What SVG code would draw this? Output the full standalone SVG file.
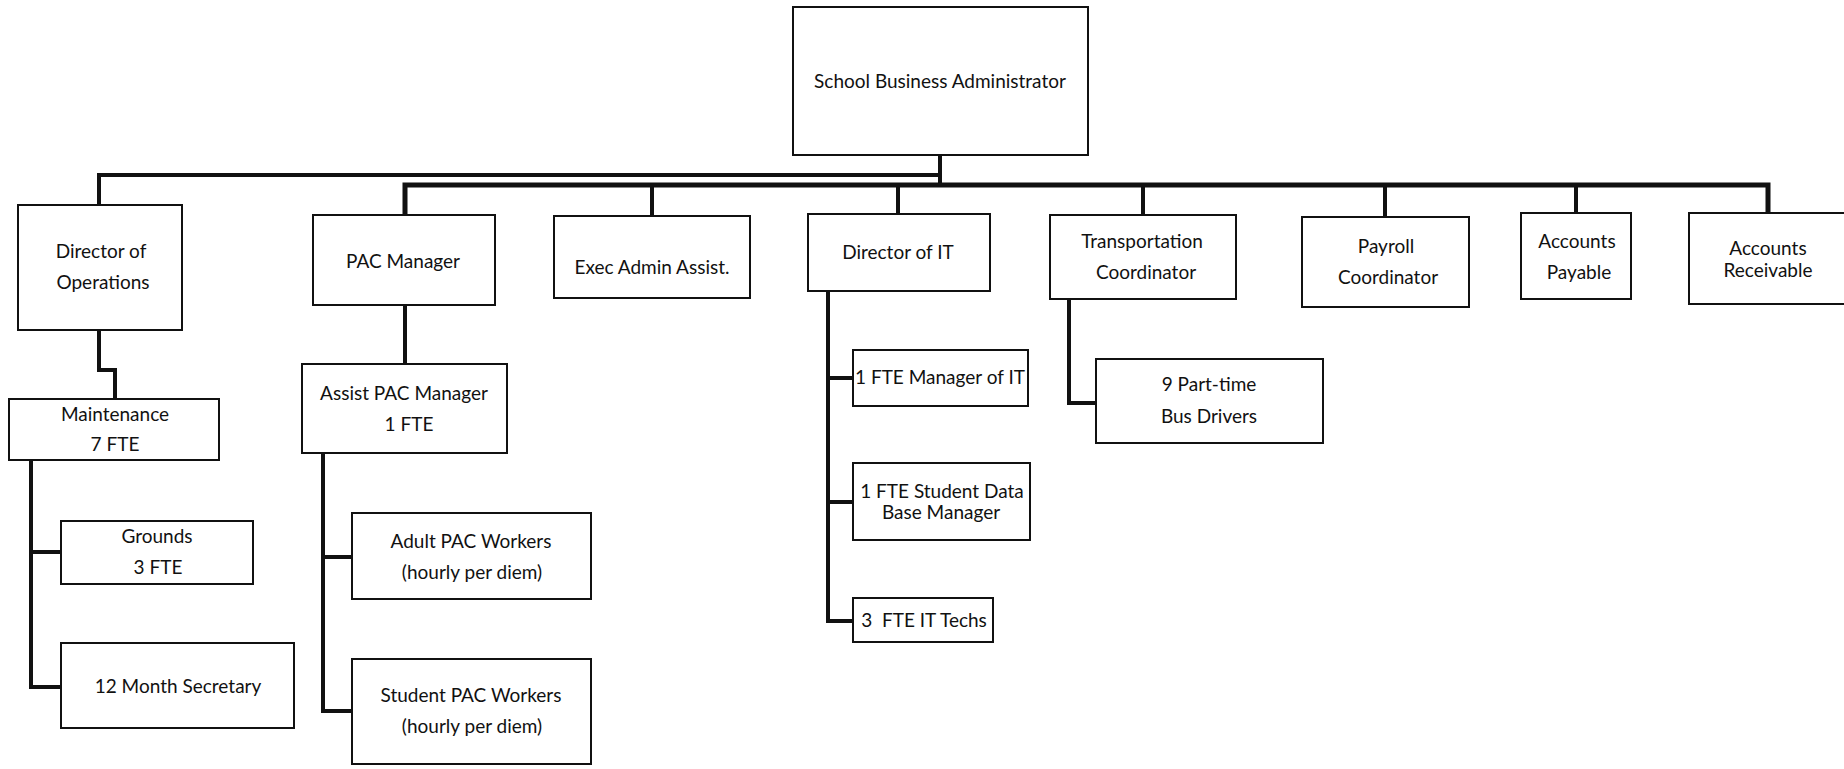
<svg xmlns="http://www.w3.org/2000/svg" width="1844" height="769" viewBox="0 0 1844 769">
  <style>
    .box { fill: #ffffff; stroke: #111111; stroke-width: 2; }
    .lbl { font-family: Lato, "Open Sans", "Liberation Sans", sans-serif; font-size: 19px; fill: #111111; text-anchor: middle; white-space: pre; }
    .wire { fill: none; stroke: #111111; stroke-width: 4; stroke-linejoin: miter; }
    .bus { stroke-width: 5; }
  </style>
  <rect width="1844" height="769" fill="#ffffff"/>

  <!-- reporting lines -->
  <g id="connectors">
    <path class="wire" d="M940 155 V185"/>
    <path class="wire" d="M99 205 V175 H940"/>
    <path class="wire bus" d="M405 215 V185 H1768 V213"/>
    <path class="wire" d="M652 185 V216"/>
    <path class="wire" d="M898 185 V214"/>
    <path class="wire" d="M1143 185 V215"/>
    <path class="wire" d="M1385 185 V217"/>
    <path class="wire" d="M1576 185 V213"/>
    <path class="wire" d="M99 330 V370 H115 V399"/>
    <path class="wire" d="M31 460 V687 H61"/>
    <path class="wire" d="M31 552 H61"/>
    <path class="wire" d="M405 305 V364"/>
    <path class="wire" d="M323 453 V711 H352"/>
    <path class="wire" d="M323 557 H352"/>
    <path class="wire" d="M828 291 V621 H853"/>
    <path class="wire" d="M828 378 H853"/>
    <path class="wire" d="M828 502 H853"/>
    <path class="wire" d="M1069 299 V403 H1096"/>
  </g>

  <g id="school-business-administrator">
    <rect class="box" x="793" y="7" width="295" height="148"/>
    <text class="lbl" x="940" y="88">School Business Administrator</text>
  </g>

  <g id="director-of-operations">
    <rect class="box" x="18" y="205" width="164" height="125"/>
    <text class="lbl" x="101" y="258">Director of</text>
    <text class="lbl" x="103" y="289">Operations</text>
  </g>

  <g id="pac-manager">
    <rect class="box" x="313" y="215" width="182" height="90"/>
    <text class="lbl" x="403" y="268">PAC Manager</text>
  </g>

  <g id="exec-admin-assist">
    <rect class="box" x="554" y="216" width="196" height="82"/>
    <text class="lbl" x="652" y="274">Exec Admin Assist.</text>
  </g>

  <g id="director-of-it">
    <rect class="box" x="808" y="214" width="182" height="77"/>
    <text class="lbl" x="898" y="259">Director of IT</text>
  </g>

  <g id="transportation-coordinator">
    <rect class="box" x="1050" y="215" width="186" height="84"/>
    <text class="lbl" x="1142" y="248">Transportation</text>
    <text class="lbl" x="1146" y="279">Coordinator</text>
  </g>

  <g id="payroll-coordinator">
    <rect class="box" x="1302" y="217" width="167" height="90"/>
    <text class="lbl" x="1386" y="253">Payroll</text>
    <text class="lbl" x="1388" y="284">Coordinator</text>
  </g>

  <g id="accounts-payable">
    <rect class="box" x="1521" y="213" width="110" height="86"/>
    <text class="lbl" x="1577" y="248">Accounts</text>
    <text class="lbl" x="1579" y="279">Payable</text>
  </g>

  <g id="accounts-receivable">
    <rect class="box" x="1689" y="213" width="165" height="91"/>
    <text class="lbl" x="1768" y="255">Accounts</text>
    <text class="lbl" x="1768" y="277">Receivable</text>
  </g>

  <g id="maintenance">
    <rect class="box" x="9" y="399" width="210" height="61"/>
    <text class="lbl" x="115" y="421">Maintenance</text>
    <text class="lbl" x="115" y="451">7 FTE</text>
  </g>

  <g id="grounds">
    <rect class="box" x="61" y="521" width="192" height="63"/>
    <text class="lbl" x="157" y="543">Grounds</text>
    <text class="lbl" x="158" y="574">3 FTE</text>
  </g>

  <g id="secretary">
    <rect class="box" x="61" y="643" width="233" height="85"/>
    <text class="lbl" x="178" y="693">12 Month Secretary</text>
  </g>

  <g id="assist-pac-manager">
    <rect class="box" x="302" y="364" width="205" height="89"/>
    <text class="lbl" x="404" y="400">Assist PAC Manager</text>
    <text class="lbl" x="409" y="431">1 FTE</text>
  </g>

  <g id="adult-pac-workers">
    <rect class="box" x="352" y="513" width="239" height="86"/>
    <text class="lbl" x="471" y="548">Adult PAC Workers</text>
    <text class="lbl" x="472" y="579">(hourly per diem)</text>
  </g>

  <g id="student-pac-workers">
    <rect class="box" x="352" y="659" width="239" height="105"/>
    <text class="lbl" x="471" y="702">Student PAC Workers</text>
    <text class="lbl" x="472" y="733">(hourly per diem)</text>
  </g>

  <g id="manager-of-it">
    <rect class="box" x="853" y="350" width="175" height="56"/>
    <text class="lbl" x="940" y="384">1 FTE Manager of IT</text>
  </g>

  <g id="student-database-manager">
    <rect class="box" x="853" y="463" width="177" height="77"/>
    <text class="lbl" x="942" y="498">1 FTE Student Data</text>
    <text class="lbl" x="941" y="519">Base Manager</text>
  </g>

  <g id="it-techs">
    <rect class="box" x="853" y="598" width="140" height="44"/>
    <text class="lbl" x="924" y="627">3  FTE IT Techs</text>
  </g>

  <g id="bus-drivers">
    <rect class="box" x="1096" y="359" width="227" height="84"/>
    <text class="lbl" x="1209" y="391">9 Part-time</text>
    <text class="lbl" x="1209" y="423">Bus Drivers</text>
  </g>
</svg>
